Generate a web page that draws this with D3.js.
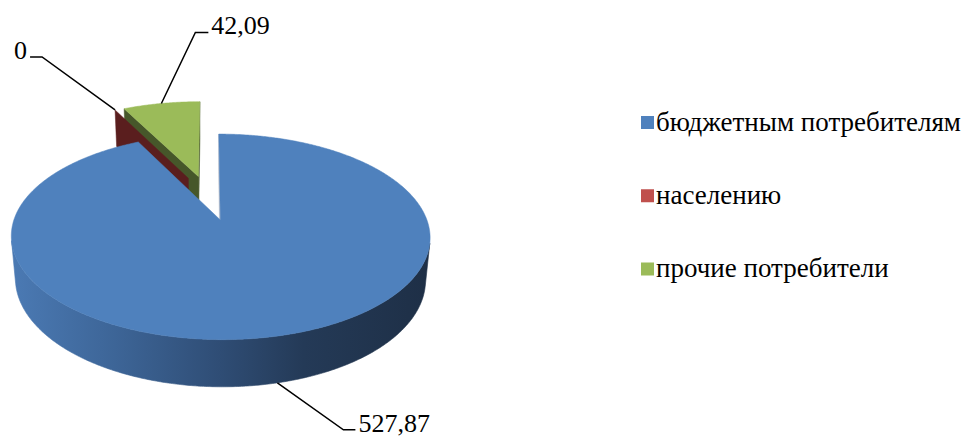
<!DOCTYPE html>
<html>
<head>
<meta charset="utf-8">
<script src="https://cdn.jsdelivr.net/npm/d3@7/dist/d3.min.js"></script>
<style>
  html, body { margin: 0; padding: 0; background: #ffffff; }
  svg { display: block; }
</style>
</head>
<body>
<script>
// ---- data ----
const categories = ["бюджетным потребителям", "населению", "прочие потребители"];
const values = [527.87, 0, 42.09];
const valueLabels = ["527,87", "0", "42,09"];
const sliceColors = ["#4F81BD", "#C0504D", "#9BBB59"];

// ---- layout / style ----
const W = 961, H = 437;
const cam = { F: 1114, D: 5.6, phi: 27.8 * Math.PI / 180, cx: 209, cy: 197.5 };
const thick = 0.237, explode = 0.24;
const radialWallColors = ["#b4bccb", "#5a1e1e", "#46572a"];
const labelLayout = [
  { dx: 66, dy: 47, h: 12, side: 1 },
  { dx: -73, dy: -53, h: -12, side: -1 },
  { dx: 34, dy: -71, h: 13, side: 1 }
];
const font = "'Liberation Serif', 'Times New Roman', serif";

const sinP = Math.sin(cam.phi), cosP = Math.cos(cam.phi);
function proj(X, Y, Z) {
  const depth = cam.D - Y * sinP + Z * cosP;
  const yc = Y * cosP + Z * sinP;
  return [cam.cx + cam.F * X / depth, cam.cy - cam.F * yc / depth];
}
const camPos = [0, cam.D * sinP, -cam.D * cosP];

const svg = d3.select("body").append("svg").attr("width", W).attr("height", H);
const defs = svg.append("defs");

const color = d3.scaleOrdinal().domain(categories).range(sliceColors);

const data = categories.map((c, i) => ({ cat: c, value: values[i], label: valueLabels[i], i }));
const arcs = d3.pie().sort(null).value(d => d.value).startAngle(0).endAngle(2 * Math.PI)(data);

// blue wall gradient
const grad = defs.append("linearGradient").attr("id", "wallBlue")
  .attr("gradientUnits", "userSpaceOnUse").attr("x1", 10).attr("x2", 430).attr("y1", 0).attr("y2", 0);
[[0, "#4b7ab4"], [0.25, "#3d6597"], [0.5, "#2f4d75"], [0.7, "#243a57"], [1, "#1e2f46"]]
  .forEach(([o, c]) => grad.append("stop").attr("offset", o).attr("stop-color", c));

const line = d3.line().curve(d3.curveLinear);

arcs.forEach(a => {
  const mid = (a.startAngle + a.endAngle) / 2;
  a.ox = explode * Math.sin(mid);
  a.oz = explode * Math.cos(mid);
  a.mid = mid;
});
const order = arcs.slice().sort((p, q) => q.oz - p.oz);

function rim(a, th, Y) { return proj(a.ox + Math.sin(th), Y, a.oz + Math.cos(th)); }
function visibleOuter(a, th) {
  const P = [a.ox + Math.sin(th), -thick / 2, a.oz + Math.cos(th)];
  const n = [Math.sin(th), 0, Math.cos(th)];
  return (camPos[0] - P[0]) * n[0] + (camPos[1] - P[1]) * n[1] + (camPos[2] - P[2]) * n[2] > 0;
}
function angles(a0, a1) {
  const n = Math.max(1, Math.ceil((a1 - a0) / (Math.PI / 360)));
  return d3.range(n + 1).map(k => a0 + (a1 - a0) * k / n);
}

const g = svg.append("g");
order.forEach(a => {
  const i = a.data.i;
  const base = color(a.data.cat);
  // outer wall (visible runs)
  if (a.endAngle > a.startAngle) {
    const ths = angles(a.startAngle, a.endAngle);
    let run = [];
    const runs = [];
    ths.forEach(th => {
      if (visibleOuter(a, th)) run.push(th);
      else { if (run.length > 1) runs.push(run); run = []; }
    });
    if (run.length > 1) runs.push(run);
    runs.forEach(r => {
      const pts = r.map(th => rim(a, th, 0)).concat(r.slice().reverse().map(th => rim(a, th, -thick)));
      g.append("path").attr("d", line(pts) + "Z")
        .attr("fill", i === 0 ? "url(#wallBlue)" : d3.color(base).darker(1.6))
        .attr("stroke", i === 0 ? "url(#wallBlue)" : "none").attr("stroke-width", 0.6);
    });
  }
  // radial walls
  [[a.startAngle, -1], [a.endAngle, 1]].forEach(([th, s]) => {
    const nth = th + s * Math.PI / 2;
    const n = [Math.sin(nth), 0, Math.cos(nth)];
    const P = [a.ox, -thick / 2, a.oz];
    const vis = (camPos[0] - P[0]) * n[0] + (camPos[1] - P[1]) * n[1] + (camPos[2] - P[2]) * n[2] > 0;
    if (!vis) return;
    const pts = [proj(a.ox, 0, a.oz), rim(a, th, 0), rim(a, th, -thick), proj(a.ox, -thick, a.oz)];
    g.append("path").attr("d", line(pts) + "Z").attr("fill", radialWallColors[i])
      .attr("stroke", radialWallColors[i]).attr("stroke-width", 0.5);
  });
  // top face
  if (a.endAngle > a.startAngle) {
    const pts = [proj(a.ox, 0, a.oz)].concat(angles(a.startAngle, a.endAngle).map(th => rim(a, th, 0)));
    g.append("path").attr("d", line(pts) + "Z").attr("fill", base)
      .attr("stroke", base).attr("stroke-width", 0.5);
  }
});

// data labels with leader lines
arcs.forEach(a => {
  const L = labelLayout[a.data.i];
  const near = Math.cos(a.mid) < 0;
  const anchor = rim(a, a.mid, near ? -thick : 0);
  const elbow = [anchor[0] + L.dx, anchor[1] + L.dy];
  const end = [elbow[0] + L.h, elbow[1]];
  svg.append("path").attr("d", line([anchor, elbow, end])).attr("fill", "none")
    .attr("stroke", "#000").attr("stroke-width", 1.5);
  svg.append("text").attr("x", end[0] + L.side * 3).attr("y", end[1] + 2)
    .attr("text-anchor", L.side > 0 ? "start" : "end")
    .attr("font-family", font).attr("font-size", 26).attr("fill", "#000")
    .text(a.data.label);
});

// legend
const ly = d3.scalePoint().domain(categories).range([122.5, 269]);
const leg = svg.append("g");
categories.forEach(c => {
  leg.append("rect").attr("x", 641).attr("y", ly(c) - 6.5).attr("width", 13).attr("height", 13)
    .attr("fill", color(c));
  leg.append("text").attr("x", 656).attr("y", ly(c) + 8)
    .attr("font-family", font).attr("font-size", 27).attr("fill", "#000").text(c);
});
</script>
</body>
</html>
